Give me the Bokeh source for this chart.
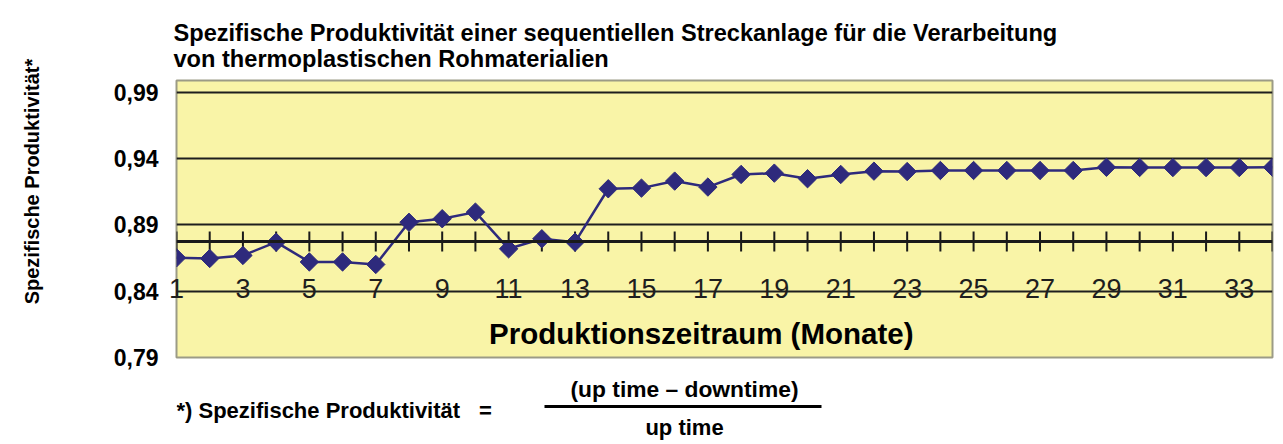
import numpy as np
from bokeh.plotting import figure
from bokeh.layouts import column, row
from bokeh.models import FixedTicker, CustomJSTickFormatter, Span, Label
from bokeh.core.properties import value
from bokeh.embed import file_html
from bokeh.resources import INLINE

# ---------------- data ----------------
months = list(range(1, 35))
productivity = [0.8652, 0.8647, 0.8670, 0.8770, 0.8621, 0.8621, 0.8602, 0.8920,
                0.8947, 0.8997, 0.8720, 0.8796, 0.8770, 0.9173, 0.9178, 0.9231,
                0.9186, 0.9281, 0.9291, 0.9249, 0.9281, 0.9306, 0.9303, 0.9311,
                0.9311, 0.9311, 0.9311, 0.9311, 0.9335, 0.9334, 0.9333, 0.9333,
                0.9333, 0.9335]
y_ticks = [0.79, 0.84, 0.89, 0.94, 0.99]
grid_ticks = [0.84, 0.89, 0.94, 0.99]
x_ticks = [m for m in months if m % 2 == 1]

title_lines = ["Spezifische Produktivität einer sequentiellen Streckanlage für die Verarbeitung",
               "von thermoplastischen Rohmaterialien"]
y_label = "Spezifische Produktivität*"
x_label = "Produktionszeitraum (Monate)"
foot_left = "*) Spezifische Produktivität"
foot_eq = "="
foot_num = "(up time – downtime)"
foot_den = "up time"

# ---------------- style constants ----------------
FONT = "Liberation Sans"
YELLOW = "#F9F4A7"
NAVY = "#2E2A7C"
AXIS_Y = 0.8775          # level of the drawn category axis
TICK_HALF = 0.0076
W = 1283
H1 = 373
H2 = 71
LW = 60                  # width of the strip holding the rotated y title
FRAME_L, FRAME_R = 176, 1272

# ---------------- left strip with the y title (page-pixel coordinates) -----
left = figure(width=LW, height=H1 + H2, x_range=(0, LW), y_range=(H1 + H2, 0),
              output_backend="svg", toolbar_location=None,
              x_axis_type=None, y_axis_type=None, min_border=0)
left.outline_line_color = None
left.grid.visible = False
left.background_fill_color = "white"
left.border_fill_color = "white"
left.text(x=[31], y=[181], text=[y_label], angle=np.pi / 2,
          text_align="center", text_baseline="middle", text_font=value(FONT),
          text_font_size=value("20px"), text_font_style="bold",
          text_color="black")

# ---------------- main chart ----------------
p = figure(width=W - LW, height=H1, x_range=(1, 34), y_range=(0.79, 0.999),
           output_backend="svg", toolbar_location=None,
           min_border_left=FRAME_L - LW, min_border_right=W - FRAME_R,
           min_border_top=80, min_border_bottom=16)
p.background_fill_color = YELLOW
p.border_fill_color = "white"
p.outline_line_color = "#9C9B86"
p.outline_line_width = 2

p.title.text = "\n".join(title_lines)
p.title.text_font = FONT
p.title.text_font_size = "23.6px"
p.title.text_font_style = "bold"
p.title.text_color = "black"
p.title.align = "left"
p.title.offset = -3
p.title.standoff = 17

# x axis: labels pulled up into the plot area (sitting on the 0,84 line)
xax = p.xaxis[0]
xax.ticker = FixedTicker(ticks=x_ticks)
xax.axis_line_color = None
xax.major_tick_line_color = None
xax.minor_tick_line_color = None
xax.major_tick_out = 0
xax.major_tick_in = 0
xax.major_label_standoff = -79
xax.major_label_text_font = FONT
xax.major_label_text_font_size = "27px"
xax.major_label_text_color = "#1E1E1E"
p.xgrid.visible = False

yax = p.yaxis[0]
yax.ticker = FixedTicker(ticks=y_ticks)
yax.formatter = CustomJSTickFormatter(code="return tick.toFixed(2).replace('.', ',');")
yax.axis_line_color = None
yax.major_tick_line_color = None
yax.minor_tick_line_color = None
yax.major_tick_out = 0
yax.major_label_standoff = 18
yax.major_label_text_font = FONT
yax.major_label_text_font_size = "23px"
yax.major_label_text_font_style = "bold"
yax.major_label_text_color = "black"

g = p.ygrid[0]
g.ticker = FixedTicker(ticks=grid_ticks)
g.grid_line_color = "#1E1E1E"
g.grid_line_width = 2
g.grid_line_alpha = 1

# drawn category axis inside the plot area
p.add_layout(Span(location=AXIS_Y, dimension="width", line_color="#1A1A1A",
                  line_width=3))
p.segment(x0=months, y0=[AXIS_Y - TICK_HALF] * len(months),
          x1=months, y1=[AXIS_Y + TICK_HALF] * len(months),
          line_color="#1A1A1A", line_width=2)

# series
p.line(months, productivity, line_color=NAVY, line_width=2.5)
p.scatter(months, productivity, marker="square", angle=np.pi / 4, size=13,
          fill_color=NAVY, line_color=NAVY)

p.add_layout(Label(x=16.8, y=0.8078, text=x_label, text_align="center",
                   text_baseline="middle", text_font=FONT,
                   text_font_size="29.5px", text_font_style="bold",
                   text_color="black"))

# ---------------- footnote figure (page-pixel coordinates) ----------------
f = figure(width=W - LW, height=H2, x_range=(FRAME_L, FRAME_R),
           y_range=(H1 + H2, H1),
           output_backend="svg", toolbar_location=None,
           x_axis_type=None, y_axis_type=None,
           min_border_left=FRAME_L - LW, min_border_right=W - FRAME_R,
           min_border_top=0, min_border_bottom=0)
f.outline_line_color = None
f.grid.visible = False
f.background_fill_color = "white"
f.border_fill_color = "white"

FS = value("22px")
f.text(x=[176], y=[410], text=[foot_left], text_align="left",
       text_baseline="middle", text_font=value(FONT),
       text_font_size=FS, text_font_style="bold", text_color="black")
f.text(x=[485], y=[410], text=[foot_eq], text_align="center",
       text_baseline="middle", text_font=value(FONT),
       text_font_size=FS, text_font_style="bold", text_color="black")
f.text(x=[684], y=[388], text=[foot_num], text_align="center",
       text_baseline="middle", text_font=value(FONT),
       text_font_size=value("22.8px"), text_font_style="bold", text_color="black")
f.segment(x0=[544], y0=[406], x1=[821], y1=[406], line_color="black", line_width=3)
f.text(x=[684], y=[427], text=[foot_den], text_align="center",
       text_baseline="middle", text_font=value(FONT),
       text_font_size=FS, text_font_style="bold", text_color="black")

layout = row(left, column(p, f, spacing=0), spacing=0)
open("out.html", "w").write(file_html(layout, INLINE))
